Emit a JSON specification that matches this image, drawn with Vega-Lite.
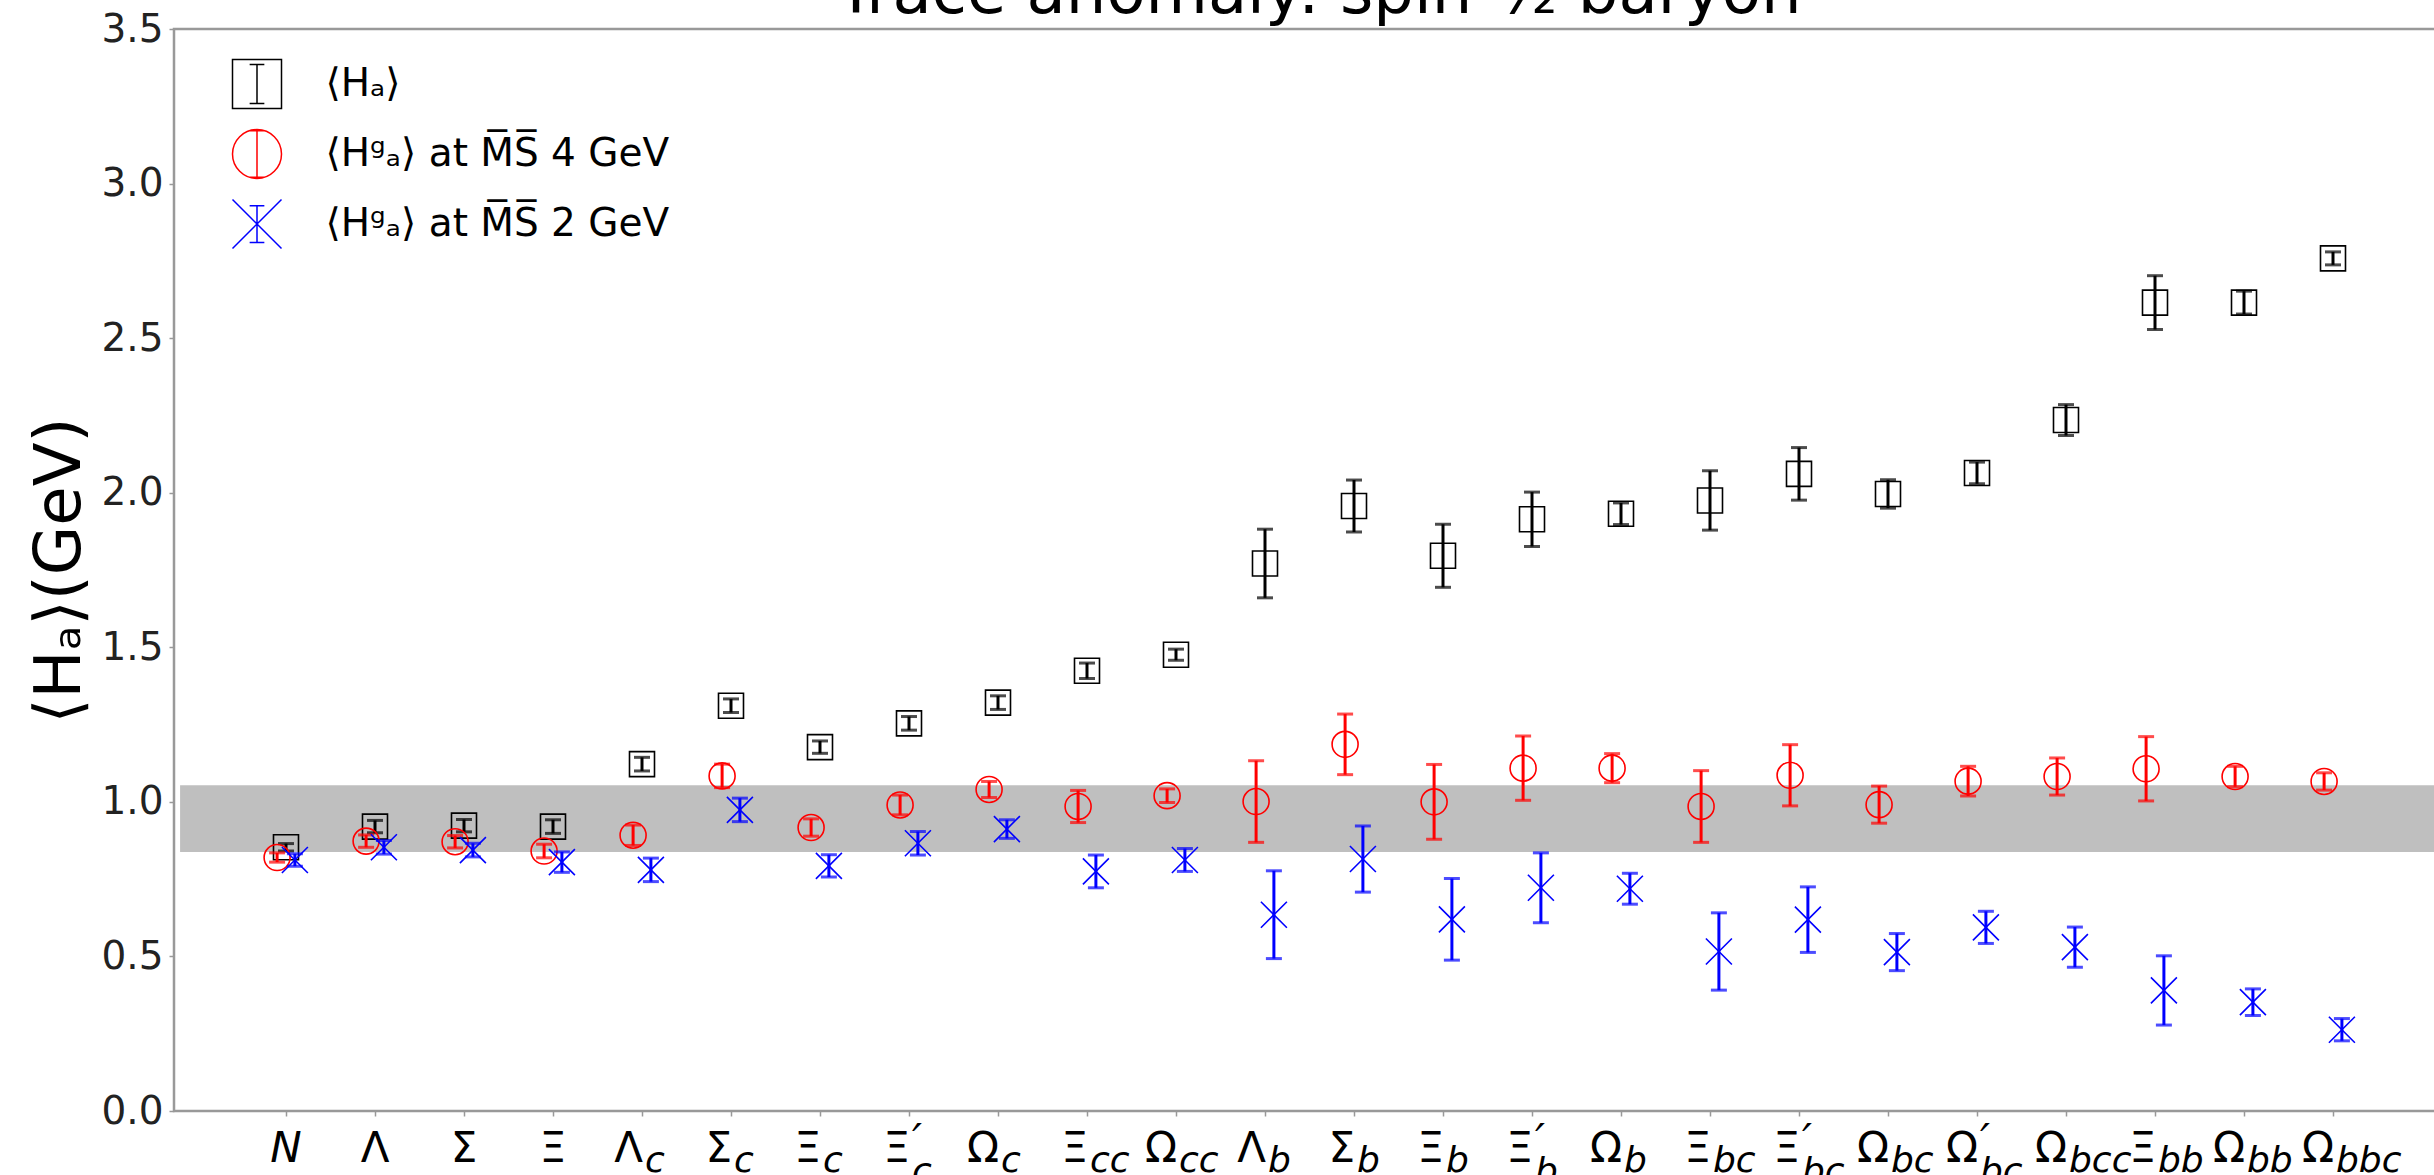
{
  "$schema": "https://vega.github.io/schema/vega-lite/v6.json",
  "width": 2290,
  "height": 1082,
  "autosize": {"type": "none"},
  "padding": {"left": 174, "top": 29, "right": -30, "bottom": 64},
  "background": "white",
  "title": {
    "text": "Trace anomaly: spin-½ baryon",
    "font": "DejaVu Sans",
    "fontSize": 64,
    "fontWeight": "normal",
    "color": "#000000",
    "anchor": "middle",
    "frame": "group",
    "baseline": "alphabetic",
    "offset": -67
  },
  "config": {
    "font": "DejaVu Sans",
    "view": {"stroke": "#999999", "strokeWidth": 2.5},
    "axis": {"grid": false, "domain": false}
  },
  "datasets": {
    "points": [
      {"i": 0, "series": "Ha", "v": 0.853, "lo": 0.841, "hi": 0.865},
      {"i": 1, "series": "Ha", "v": 0.920, "lo": 0.900, "hi": 0.940},
      {"i": 2, "series": "Ha", "v": 0.923, "lo": 0.903, "hi": 0.943},
      {"i": 3, "series": "Ha", "v": 0.920, "lo": 0.898, "hi": 0.942},
      {"i": 4, "series": "Ha", "v": 1.122, "lo": 1.100, "hi": 1.144},
      {"i": 5, "series": "Ha", "v": 1.311, "lo": 1.289, "hi": 1.333},
      {"i": 6, "series": "Ha", "v": 1.177, "lo": 1.157, "hi": 1.197},
      {"i": 7, "series": "Ha", "v": 1.254, "lo": 1.232, "hi": 1.276},
      {"i": 8, "series": "Ha", "v": 1.321, "lo": 1.299, "hi": 1.343},
      {"i": 9, "series": "Ha", "v": 1.424, "lo": 1.399, "hi": 1.449},
      {"i": 10, "series": "Ha", "v": 1.476, "lo": 1.458, "hi": 1.494},
      {"i": 11, "series": "Ha", "v": 1.771, "lo": 1.660, "hi": 1.882},
      {"i": 12, "series": "Ha", "v": 1.957, "lo": 1.873, "hi": 2.041},
      {"i": 13, "series": "Ha", "v": 1.796, "lo": 1.694, "hi": 1.898},
      {"i": 14, "series": "Ha", "v": 1.914, "lo": 1.826, "hi": 2.002},
      {"i": 15, "series": "Ha", "v": 1.932, "lo": 1.897, "hi": 1.967},
      {"i": 16, "series": "Ha", "v": 1.975, "lo": 1.879, "hi": 2.071},
      {"i": 17, "series": "Ha", "v": 2.061, "lo": 1.976, "hi": 2.146},
      {"i": 18, "series": "Ha", "v": 1.996, "lo": 1.950, "hi": 2.042},
      {"i": 19, "series": "Ha", "v": 2.064, "lo": 2.029, "hi": 2.099},
      {"i": 20, "series": "Ha", "v": 2.235, "lo": 2.185, "hi": 2.285},
      {"i": 21, "series": "Ha", "v": 2.615, "lo": 2.528, "hi": 2.702},
      {"i": 22, "series": "Ha", "v": 2.615, "lo": 2.578, "hi": 2.652},
      {"i": 23, "series": "Ha", "v": 2.758, "lo": 2.737, "hi": 2.779},
      {"i": 0, "series": "Hg4", "v": 0.820, "lo": 0.805, "hi": 0.835},
      {"i": 1, "series": "Hg4", "v": 0.873, "lo": 0.853, "hi": 0.893},
      {"i": 2, "series": "Hg4", "v": 0.871, "lo": 0.851, "hi": 0.891},
      {"i": 3, "series": "Hg4", "v": 0.841, "lo": 0.819, "hi": 0.863},
      {"i": 4, "series": "Hg4", "v": 0.892, "lo": 0.859, "hi": 0.925},
      {"i": 5, "series": "Hg4", "v": 1.084, "lo": 1.046, "hi": 1.122},
      {"i": 6, "series": "Hg4", "v": 0.917, "lo": 0.889, "hi": 0.945},
      {"i": 7, "series": "Hg4", "v": 0.990, "lo": 0.958, "hi": 1.022},
      {"i": 8, "series": "Hg4", "v": 1.040, "lo": 1.014, "hi": 1.066},
      {"i": 9, "series": "Hg4", "v": 0.985, "lo": 0.933, "hi": 1.037},
      {"i": 10, "series": "Hg4", "v": 1.020, "lo": 0.998, "hi": 1.042},
      {"i": 11, "series": "Hg4", "v": 1.001, "lo": 0.869, "hi": 1.133},
      {"i": 12, "series": "Hg4", "v": 1.186, "lo": 1.088, "hi": 1.284},
      {"i": 13, "series": "Hg4", "v": 1.000, "lo": 0.879, "hi": 1.121},
      {"i": 14, "series": "Hg4", "v": 1.109, "lo": 1.005, "hi": 1.213},
      {"i": 15, "series": "Hg4", "v": 1.109, "lo": 1.062, "hi": 1.156},
      {"i": 16, "series": "Hg4", "v": 0.985, "lo": 0.869, "hi": 1.101},
      {"i": 17, "series": "Hg4", "v": 1.086, "lo": 0.987, "hi": 1.185},
      {"i": 18, "series": "Hg4", "v": 0.991, "lo": 0.931, "hi": 1.051},
      {"i": 19, "series": "Hg4", "v": 1.067, "lo": 1.019, "hi": 1.115},
      {"i": 20, "series": "Hg4", "v": 1.082, "lo": 1.022, "hi": 1.142},
      {"i": 21, "series": "Hg4", "v": 1.107, "lo": 1.003, "hi": 1.211},
      {"i": 22, "series": "Hg4", "v": 1.082, "lo": 1.049, "hi": 1.115},
      {"i": 23, "series": "Hg4", "v": 1.066, "lo": 1.038, "hi": 1.094},
      {"i": 0, "series": "Hg2", "v": 0.812, "lo": 0.792, "hi": 0.832},
      {"i": 1, "series": "Hg2", "v": 0.853, "lo": 0.831, "hi": 0.875},
      {"i": 2, "series": "Hg2", "v": 0.844, "lo": 0.822, "hi": 0.866},
      {"i": 3, "series": "Hg2", "v": 0.805, "lo": 0.772, "hi": 0.838},
      {"i": 4, "series": "Hg2", "v": 0.780, "lo": 0.742, "hi": 0.818},
      {"i": 5, "series": "Hg2", "v": 0.974, "lo": 0.936, "hi": 1.012},
      {"i": 6, "series": "Hg2", "v": 0.793, "lo": 0.757, "hi": 0.829},
      {"i": 7, "series": "Hg2", "v": 0.866, "lo": 0.828, "hi": 0.904},
      {"i": 8, "series": "Hg2", "v": 0.912, "lo": 0.882, "hi": 0.942},
      {"i": 9, "series": "Hg2", "v": 0.775, "lo": 0.722, "hi": 0.828},
      {"i": 10, "series": "Hg2", "v": 0.812, "lo": 0.775, "hi": 0.849},
      {"i": 11, "series": "Hg2", "v": 0.635, "lo": 0.493, "hi": 0.777},
      {"i": 12, "series": "Hg2", "v": 0.815, "lo": 0.708, "hi": 0.922},
      {"i": 13, "series": "Hg2", "v": 0.620, "lo": 0.488, "hi": 0.752},
      {"i": 14, "series": "Hg2", "v": 0.722, "lo": 0.609, "hi": 0.835},
      {"i": 15, "series": "Hg2", "v": 0.719, "lo": 0.669, "hi": 0.769},
      {"i": 16, "series": "Hg2", "v": 0.516, "lo": 0.391, "hi": 0.641},
      {"i": 17, "series": "Hg2", "v": 0.619, "lo": 0.513, "hi": 0.725},
      {"i": 18, "series": "Hg2", "v": 0.514, "lo": 0.454, "hi": 0.574},
      {"i": 19, "series": "Hg2", "v": 0.594, "lo": 0.542, "hi": 0.646},
      {"i": 20, "series": "Hg2", "v": 0.530, "lo": 0.465, "hi": 0.595},
      {"i": 21, "series": "Hg2", "v": 0.390, "lo": 0.278, "hi": 0.502},
      {"i": 22, "series": "Hg2", "v": 0.352, "lo": 0.309, "hi": 0.395},
      {"i": 23, "series": "Hg2", "v": 0.263, "lo": 0.227, "hi": 0.299}
    ],
    "labels": [
      {"i": 0, "base": "N", "sub": "", "prime": false},
      {"i": 1, "base": "Λ", "sub": "", "prime": false},
      {"i": 2, "base": "Σ", "sub": "", "prime": false},
      {"i": 3, "base": "Ξ", "sub": "", "prime": false},
      {"i": 4, "base": "Λ", "sub": "c", "prime": false},
      {"i": 5, "base": "Σ", "sub": "c", "prime": false},
      {"i": 6, "base": "Ξ", "sub": "c", "prime": false},
      {"i": 7, "base": "Ξ", "sub": "c", "prime": true},
      {"i": 8, "base": "Ω", "sub": "c", "prime": false},
      {"i": 9, "base": "Ξ", "sub": "cc", "prime": false},
      {"i": 10, "base": "Ω", "sub": "cc", "prime": false},
      {"i": 11, "base": "Λ", "sub": "b", "prime": false},
      {"i": 12, "base": "Σ", "sub": "b", "prime": false},
      {"i": 13, "base": "Ξ", "sub": "b", "prime": false},
      {"i": 14, "base": "Ξ", "sub": "b", "prime": true},
      {"i": 15, "base": "Ω", "sub": "b", "prime": false},
      {"i": 16, "base": "Ξ", "sub": "bc", "prime": false},
      {"i": 17, "base": "Ξ", "sub": "bc", "prime": true},
      {"i": 18, "base": "Ω", "sub": "bc", "prime": false},
      {"i": 19, "base": "Ω", "sub": "bc", "prime": true},
      {"i": 20, "base": "Ω", "sub": "bcc", "prime": false},
      {"i": 21, "base": "Ξ", "sub": "bb", "prime": false},
      {"i": 22, "base": "Ω", "sub": "bb", "prime": false},
      {"i": 23, "base": "Ω", "sub": "bbc", "prime": false}
    ]
  },
  "data": {"name": "points"},
  "layer": [
    {
      "data": {"values": [{"lo": 0.838, "hi": 1.054}]},
      "mark": {"type": "rect", "color": "#bfbfbf", "clip": true},
      "encoding": {
        "x": {"datum": -1.19, "type": "quantitative"},
        "x2": {"datum": 24.4},
        "y": {"field": "lo", "type": "quantitative"},
        "y2": {"field": "hi"}
      }
    },
    {
      "mark": {"type": "point", "filled": false, "opacity": 0, "strokeWidth": 1.5},
      "encoding": {
        "x": {
          "field": "i",
          "type": "quantitative",
          "title": null,
          "scale": {"domain": [-1.2584, 24.4719], "nice": false, "zero": false},
          "axis": {
            "values": [0, 1, 2, 3, 4, 5, 6, 7, 8, 9, 10, 11, 12, 13, 14, 15, 16, 17, 18, 19, 20, 21, 22, 23],
            "labels": false,
            "ticks": true,
            "tickSize": 5,
            "tickColor": "#999999",
            "tickWidth": 1.5,
            "domain": false,
            "grid": false,
            "title": null
          }
        },
        "y": {
          "field": "v",
          "type": "quantitative",
          "scale": {"domain": [0, 3.5], "nice": false, "zero": true},
          "axis": {
            "values": [0, 0.5, 1, 1.5, 2, 2.5, 3, 3.5],
            "format": ".1f",
            "labelFont": "DejaVu Sans",
            "labelFontSize": 39,
            "labelColor": "#222222",
            "labelPadding": 6,
            "labelOverlap": false,
            "labelFlush": false,
            "labelBound": false,
            "tickSize": 5,
            "tickColor": "#999999",
            "tickWidth": 1.5,
            "domain": false,
            "grid": false,
            "title": "⟨Hₐ⟩(GeV)",
            "titleFont": "DejaVu Sans",
            "titleFontSize": 64,
            "titleFontWeight": "normal",
            "titleColor": "#000000",
            "titlePadding": 8
          }
        },
        "color": {
          "field": "series",
          "type": "nominal",
          "scale": {"domain": ["Ha", "Hg4", "Hg2"], "range": ["#000000", "#ff0000", "#0000ff"]},
          "legend": {
            "orient": "none",
            "legendX": 57.5,
            "legendY": 29.5,
            "title": null,
            "padding": 0,
            "symbolSize": 2401,
            "symbolStrokeWidth": 1.5,
            "symbolOpacity": 1,
            "symbolFillColor": "transparent",
            "labelFont": "DejaVu Sans",
            "labelFontSize": 39,
            "labelColor": "#000000",
            "labelOffset": 43,
            "labelLimit": 0,
            "rowPadding": 14,
            "labelExpr": "datum.label == 'Ha' ? '⟨Hₐ⟩' : datum.label == 'Hg4' ? '⟨Hᵍₐ⟩ at M̅S̅ 4 GeV' : '⟨Hᵍₐ⟩ at M̅S̅ 2 GeV'"
          }
        },
        "shape": {
          "field": "series",
          "type": "nominal",
          "scale": {
            "domain": ["Ha", "Hg4", "Hg2"],
            "range": [
              "M-1,-1H1V1H-1Z M0,-0.8V0.8 M-0.3,-0.8H0.3 M-0.3,0.8H0.3",
              "M-1,0A1,1,0,1,1,1,0A1,1,0,1,1,-1,0Z M0,-0.95V0.95 M-0.3,-0.95H0.3 M-0.3,0.95H0.3",
              "M-1,-1L1,1M1,-1L-1,1 M0,-0.75V0.75 M-0.3,-0.75H0.3 M-0.3,0.75H0.3"
            ]
          }
        }
      }
    },
    {
      "transform": [{"filter": "datum.series == 'Ha'"}],
      "mark": {"type": "rule", "color": "#000000", "strokeWidth": 3},
      "encoding": {
        "x": {"field": "i", "type": "quantitative"},
        "y": {"field": "lo", "type": "quantitative"},
        "y2": {"field": "hi"}
      }
    },
    {
      "transform": [{"filter": "datum.series == 'Ha'"}, {"fold": ["lo", "hi"], "as": ["end", "bound"]}],
      "mark": {"type": "tick", "orient": "horizontal", "color": "#000000", "size": 16, "thickness": 3},
      "encoding": {
        "x": {"field": "i", "type": "quantitative"},
        "y": {"field": "bound", "type": "quantitative"}
      }
    },
    {
      "transform": [{"filter": "datum.series == 'Ha'"}],
      "mark": {"type": "point", "shape": "square", "filled": false, "color": "#000000", "size": 625, "strokeWidth": 1.6, "opacity": 1},
      "encoding": {
        "x": {"field": "i", "type": "quantitative"},
        "y": {"field": "v", "type": "quantitative"}
      }
    },
    {
      "transform": [{"filter": "datum.series == 'Hg4'"}],
      "mark": {"type": "rule", "color": "#ff0000", "strokeWidth": 3, "xOffset": -8.9},
      "encoding": {
        "x": {"field": "i", "type": "quantitative"},
        "y": {"field": "lo", "type": "quantitative"},
        "y2": {"field": "hi"}
      }
    },
    {
      "transform": [{"filter": "datum.series == 'Hg4'"}, {"fold": ["lo", "hi"], "as": ["end", "bound"]}],
      "mark": {"type": "tick", "orient": "horizontal", "color": "#ff0000", "size": 16, "thickness": 3, "xOffset": -8.9},
      "encoding": {
        "x": {"field": "i", "type": "quantitative"},
        "y": {"field": "bound", "type": "quantitative"}
      }
    },
    {
      "transform": [{"filter": "datum.series == 'Hg4'"}],
      "mark": {"type": "point", "shape": "circle", "filled": false, "color": "#ff0000", "size": 676, "strokeWidth": 1.6, "opacity": 1, "xOffset": -8.9},
      "encoding": {
        "x": {"field": "i", "type": "quantitative"},
        "y": {"field": "v", "type": "quantitative"}
      }
    },
    {
      "transform": [{"filter": "datum.series == 'Hg2'"}],
      "mark": {"type": "rule", "color": "#0000ff", "strokeWidth": 3, "xOffset": 8.9},
      "encoding": {
        "x": {"field": "i", "type": "quantitative"},
        "y": {"field": "lo", "type": "quantitative"},
        "y2": {"field": "hi"}
      }
    },
    {
      "transform": [{"filter": "datum.series == 'Hg2'"}, {"fold": ["lo", "hi"], "as": ["end", "bound"]}],
      "mark": {"type": "tick", "orient": "horizontal", "color": "#0000ff", "size": 16, "thickness": 3, "xOffset": 8.9},
      "encoding": {
        "x": {"field": "i", "type": "quantitative"},
        "y": {"field": "bound", "type": "quantitative"}
      }
    },
    {
      "transform": [{"filter": "datum.series == 'Hg2'"}],
      "mark": {"type": "point", "shape": "M-1,-1L1,1M1,-1L-1,1", "filled": false, "color": "#0000ff", "size": 676, "strokeWidth": 1.6, "opacity": 1, "xOffset": 8.9},
      "encoding": {
        "x": {"field": "i", "type": "quantitative"},
        "y": {"field": "v", "type": "quantitative"}
      }
    },
    {
      "data": {"name": "labels"},
      "transform": [{"filter": "datum.sub == '' && datum.base != 'N'"}],
      "mark": {"type": "text", "font": "DejaVu Sans", "fontSize": 42, "align": "center", "baseline": "alphabetic", "dy": 51, "color": "#000000"},
      "encoding": {
        "x": {"field": "i", "type": "quantitative"},
        "y": {"datum": 0, "type": "quantitative"},
        "text": {"field": "base"}
      }
    },
    {
      "data": {"name": "labels"},
      "transform": [{"filter": "datum.base == 'N'"}],
      "mark": {"type": "text", "font": "DejaVu Sans", "fontSize": 42, "fontStyle": "italic", "align": "center", "baseline": "alphabetic", "dy": 51, "color": "#000000"},
      "encoding": {
        "x": {"field": "i", "type": "quantitative"},
        "y": {"datum": 0, "type": "quantitative"},
        "text": {"field": "base"}
      }
    },
    {
      "data": {"name": "labels"},
      "transform": [{"filter": "datum.sub != ''"}],
      "mark": {"type": "text", "font": "DejaVu Sans", "fontSize": 42, "align": "right", "baseline": "alphabetic", "dx": 1, "dy": 51, "color": "#000000"},
      "encoding": {
        "x": {"field": "i", "type": "quantitative"},
        "y": {"datum": 0, "type": "quantitative"},
        "text": {"field": "base"}
      }
    },
    {
      "data": {"name": "labels"},
      "transform": [{"filter": "datum.sub != '' && !datum.prime"}],
      "mark": {"type": "text", "font": "DejaVu Sans", "fontSize": 36, "fontStyle": "italic", "align": "left", "baseline": "alphabetic", "dx": 3, "dy": 61, "color": "#000000"},
      "encoding": {
        "x": {"field": "i", "type": "quantitative"},
        "y": {"datum": 0, "type": "quantitative"},
        "text": {"field": "sub"}
      }
    },
    {
      "data": {"name": "labels"},
      "transform": [{"filter": "datum.prime"}],
      "mark": {"type": "text", "font": "DejaVu Sans", "fontSize": 36, "fontStyle": "italic", "align": "left", "baseline": "alphabetic", "dx": 3, "dy": 72, "color": "#000000"},
      "encoding": {
        "x": {"field": "i", "type": "quantitative"},
        "y": {"datum": 0, "type": "quantitative"},
        "text": {"field": "sub"}
      }
    },
    {
      "data": {"name": "labels"},
      "transform": [{"filter": "datum.prime"}],
      "mark": {"type": "text", "font": "DejaVu Sans", "fontSize": 44, "fontStyle": "italic", "align": "left", "baseline": "alphabetic", "dx": 3, "dy": 45, "color": "#000000", "text": "′"},
      "encoding": {
        "x": {"field": "i", "type": "quantitative"},
        "y": {"datum": 0, "type": "quantitative"}
      }
    }
  ]
}
